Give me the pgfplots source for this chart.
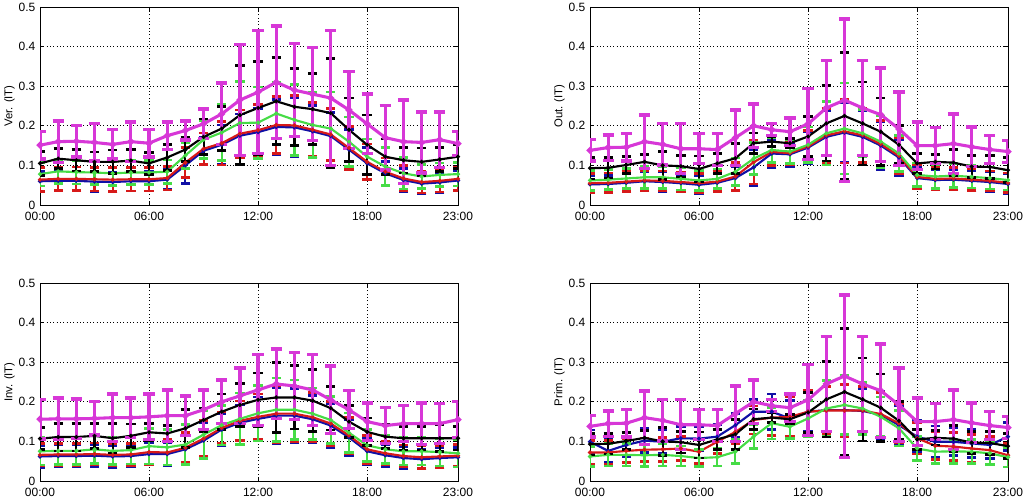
\documentclass[border=0pt]{standalone}
\usepackage{pgfplots}
\usepackage{pgfplotstable}
\pgfplotsset{compat=1.18}
\usepackage{fontspec}
\setmainfont{Liberation Sans}

\definecolor{cb}{RGB}{15,15,165}
\definecolor{cr}{RGB}{215,25,25}
\definecolor{cg}{RGB}{70,220,70}
\definecolor{cm}{RGB}{215,55,215}

\pgfplotstableread{
h b be r re g ge k ke m me
0 0.060 0.025 0.064 0.030 0.078 0.030 0.105 0.030 0.151 0.035
1 0.061 0.025 0.066 0.030 0.085 0.030 0.117 0.025 0.160 0.052
2 0.061 0.025 0.066 0.030 0.083 0.030 0.113 0.027 0.161 0.040
3 0.059 0.025 0.065 0.030 0.082 0.030 0.109 0.025 0.158 0.047
4 0.058 0.025 0.064 0.030 0.080 0.030 0.109 0.030 0.153 0.037
5 0.060 0.025 0.065 0.030 0.082 0.030 0.112 0.028 0.160 0.050
6 0.060 0.025 0.065 0.030 0.082 0.030 0.105 0.028 0.156 0.035
7 0.064 0.025 0.068 0.030 0.084 0.030 0.120 0.033 0.175 0.035
8 0.100 0.045 0.107 0.038 0.125 0.032 0.140 0.030 0.188 0.024
9 0.137 0.035 0.142 0.040 0.165 0.048 0.172 0.045 0.205 0.037
10 0.152 0.050 0.156 0.055 0.183 0.070 0.193 0.055 0.230 0.078
11 0.175 0.055 0.180 0.060 0.207 0.105 0.227 0.125 0.265 0.140
12 0.184 0.060 0.189 0.065 0.208 0.090 0.245 0.118 0.285 0.155
13 0.197 0.070 0.202 0.072 0.231 0.078 0.262 0.110 0.310 0.142
14 0.196 0.075 0.201 0.075 0.215 0.090 0.248 0.097 0.290 0.117
15 0.186 0.065 0.190 0.068 0.202 0.082 0.242 0.090 0.280 0.117
16 0.174 0.060 0.178 0.065 0.193 0.092 0.232 0.138 0.270 0.170
17 0.140 0.050 0.144 0.055 0.160 0.062 0.190 0.080 0.240 0.097
18 0.105 0.040 0.109 0.045 0.122 0.045 0.152 0.075 0.205 0.075
19 0.080 0.030 0.084 0.035 0.097 0.048 0.122 0.045 0.170 0.082
20 0.063 0.030 0.067 0.032 0.080 0.040 0.113 0.032 0.160 0.105
21 0.054 0.025 0.058 0.028 0.072 0.030 0.109 0.035 0.158 0.077
22 0.057 0.025 0.061 0.028 0.076 0.030 0.115 0.030 0.165 0.070
23 0.062 0.025 0.066 0.030 0.078 0.030 0.122 0.030 0.155 0.030
}\tabA

\pgfplotstableread{
h b be r re g ge k ke m me
0 0.052 0.022 0.055 0.025 0.062 0.025 0.093 0.027 0.138 0.027
1 0.053 0.022 0.056 0.025 0.064 0.025 0.094 0.026 0.145 0.032
2 0.056 0.022 0.059 0.025 0.067 0.025 0.101 0.022 0.146 0.035
3 0.060 0.025 0.062 0.025 0.070 0.028 0.109 0.018 0.160 0.067
4 0.058 0.025 0.061 0.025 0.070 0.028 0.100 0.035 0.153 0.052
5 0.055 0.022 0.058 0.025 0.066 0.028 0.098 0.027 0.142 0.063
6 0.051 0.022 0.055 0.025 0.062 0.025 0.091 0.033 0.142 0.038
7 0.056 0.022 0.059 0.025 0.066 0.025 0.105 0.025 0.140 0.040
8 0.068 0.030 0.072 0.035 0.084 0.035 0.118 0.038 0.170 0.070
9 0.095 0.045 0.108 0.055 0.117 0.040 0.156 0.026 0.200 0.055
10 0.130 0.035 0.134 0.035 0.139 0.032 0.160 0.012 0.190 0.015
11 0.128 0.030 0.131 0.030 0.135 0.030 0.156 0.012 0.185 0.035
12 0.145 0.040 0.148 0.040 0.152 0.045 0.173 0.050 0.205 0.090
13 0.172 0.065 0.176 0.068 0.181 0.080 0.206 0.095 0.245 0.120
14 0.183 0.075 0.186 0.080 0.193 0.115 0.225 0.160 0.265 0.205
15 0.172 0.065 0.176 0.068 0.181 0.060 0.206 0.105 0.245 0.120
16 0.150 0.060 0.154 0.060 0.160 0.065 0.185 0.085 0.228 0.118
17 0.120 0.045 0.124 0.045 0.130 0.045 0.152 0.048 0.192 0.093
18 0.068 0.028 0.071 0.030 0.076 0.030 0.105 0.025 0.150 0.060
19 0.063 0.025 0.066 0.028 0.072 0.030 0.109 0.018 0.150 0.045
20 0.064 0.025 0.067 0.028 0.074 0.030 0.107 0.033 0.155 0.075
21 0.061 0.025 0.064 0.028 0.071 0.028 0.097 0.028 0.147 0.050
22 0.058 0.025 0.061 0.025 0.068 0.028 0.096 0.029 0.140 0.035
23 0.053 0.025 0.056 0.025 0.063 0.025 0.088 0.032 0.135 0.028
}\tabB

\pgfplotstableread{
h b be r re g ge k ke m me
0 0.062 0.028 0.066 0.028 0.075 0.035 0.107 0.028 0.156 0.050
1 0.063 0.028 0.067 0.028 0.076 0.035 0.111 0.035 0.157 0.053
2 0.063 0.028 0.067 0.028 0.076 0.035 0.111 0.035 0.157 0.050
3 0.064 0.028 0.068 0.028 0.080 0.035 0.114 0.032 0.158 0.042
4 0.062 0.028 0.066 0.028 0.076 0.035 0.108 0.037 0.160 0.060
5 0.063 0.028 0.067 0.028 0.078 0.035 0.114 0.030 0.160 0.050
6 0.068 0.028 0.073 0.032 0.088 0.045 0.123 0.022 0.162 0.058
7 0.068 0.030 0.072 0.032 0.085 0.045 0.120 0.020 0.165 0.065
8 0.080 0.035 0.084 0.038 0.092 0.050 0.133 0.048 0.165 0.050
9 0.102 0.045 0.107 0.045 0.117 0.060 0.154 0.030 0.180 0.050
10 0.130 0.040 0.134 0.040 0.141 0.050 0.175 0.045 0.200 0.055
11 0.147 0.045 0.152 0.050 0.157 0.065 0.192 0.055 0.215 0.070
12 0.157 0.055 0.162 0.058 0.171 0.070 0.205 0.068 0.230 0.090
13 0.165 0.070 0.170 0.072 0.180 0.080 0.211 0.088 0.245 0.088
14 0.165 0.068 0.170 0.070 0.180 0.075 0.211 0.080 0.240 0.085
15 0.156 0.060 0.161 0.062 0.170 0.065 0.203 0.078 0.230 0.090
16 0.140 0.055 0.145 0.055 0.154 0.060 0.184 0.055 0.205 0.085
17 0.110 0.045 0.115 0.045 0.122 0.050 0.150 0.040 0.180 0.048
18 0.075 0.035 0.080 0.035 0.090 0.040 0.124 0.035 0.150 0.047
19 0.065 0.028 0.070 0.030 0.080 0.035 0.112 0.030 0.140 0.045
20 0.058 0.028 0.063 0.028 0.075 0.035 0.108 0.030 0.145 0.045
21 0.055 0.025 0.060 0.028 0.075 0.035 0.108 0.030 0.145 0.052
22 0.058 0.025 0.062 0.028 0.073 0.035 0.108 0.033 0.145 0.050
23 0.060 0.025 0.064 0.028 0.070 0.035 0.108 0.030 0.155 0.045
}\tabC

\pgfplotstableread{
h b be r re g ge k ke m me
0 0.099 0.030 0.072 0.030 0.062 0.025 0.093 0.027 0.138 0.027
1 0.076 0.030 0.072 0.030 0.066 0.028 0.094 0.026 0.145 0.032
2 0.091 0.030 0.076 0.030 0.066 0.028 0.101 0.022 0.146 0.035
3 0.102 0.030 0.079 0.030 0.065 0.028 0.109 0.018 0.160 0.067
4 0.099 0.030 0.080 0.030 0.066 0.028 0.100 0.035 0.153 0.052
5 0.108 0.030 0.082 0.030 0.063 0.025 0.098 0.027 0.142 0.063
6 0.107 0.030 0.074 0.030 0.058 0.022 0.091 0.033 0.142 0.038
7 0.112 0.030 0.099 0.030 0.060 0.022 0.105 0.025 0.140 0.040
8 0.141 0.030 0.124 0.030 0.074 0.030 0.118 0.038 0.170 0.070
9 0.175 0.030 0.154 0.035 0.112 0.030 0.156 0.026 0.200 0.055
10 0.175 0.045 0.160 0.045 0.146 0.040 0.160 0.012 0.190 0.015
11 0.158 0.045 0.162 0.050 0.137 0.030 0.156 0.012 0.185 0.035
12 0.175 0.050 0.175 0.055 0.158 0.045 0.173 0.050 0.205 0.090
13 0.179 0.060 0.178 0.060 0.183 0.070 0.206 0.095 0.245 0.120
14 0.179 0.065 0.178 0.065 0.192 0.075 0.225 0.160 0.265 0.205
15 0.177 0.055 0.178 0.060 0.183 0.065 0.206 0.105 0.245 0.120
16 0.167 0.060 0.169 0.055 0.162 0.050 0.185 0.085 0.228 0.118
17 0.141 0.050 0.146 0.050 0.133 0.045 0.152 0.048 0.192 0.093
18 0.112 0.040 0.108 0.040 0.082 0.030 0.105 0.025 0.150 0.060
19 0.099 0.040 0.089 0.035 0.074 0.030 0.109 0.018 0.150 0.045
20 0.099 0.035 0.087 0.035 0.075 0.030 0.107 0.033 0.155 0.075
21 0.095 0.035 0.082 0.035 0.074 0.030 0.097 0.028 0.147 0.050
22 0.091 0.035 0.078 0.035 0.070 0.028 0.096 0.029 0.140 0.035
23 0.112 0.035 0.065 0.030 0.060 0.025 0.088 0.032 0.135 0.028
}\tabD

\pgfplotsset{
  panel/.style={
    scale only axis, width=313.5pt, height=148.5pt,
    anchor=south west,
    xmin=0, xmax=23, ymin=0, ymax=0.5,
    xtick={0,6,12,18,23},
    xticklabels={00:00,06:00,12:00,18:00,23:00},
    ytick={0,0.1,0.2,0.3,0.4,0.5},
    yticklabels={0,0.1,0.2,0.3,0.4,0.5},
    grid=major,
    major grid style={line width=0.5pt, black, dotted},
    tick align=inside, major tick length=3pt,
    tick style={black, line width=0.5pt},
    axis line style={line width=0.7pt},
    tick label style={font=\fontsize{9}{10}\selectfont},
    xticklabel style={yshift=-1.5pt},
    label style={font=\fontsize{8.5}{10}\selectfont},
    ylabel style={yshift=-4pt},
  },
  ser/.style={
    color=#1, line width=1.6pt, mark=*, mark size=0.6pt,
    error bars/.cd, y dir=both, y explicit,
    error bar style={line width=1.6pt, color=#1, solid},
    error mark options={line width=2pt, mark size=3.5pt, color=#1, rotate=90},
  },
  serm/.style={
    color=cm, line width=2.3pt, mark=*, mark size=1.2pt,
    error bars/.cd, y dir=both, y explicit,
    error bar style={line width=2.4pt, color=cm, solid},
    error mark options={line width=2.5pt, mark size=4.2pt, color=cm, rotate=90},
  },
}

\newcommand\plotset[1]{%
  \addplot[ser=cb] table[x=h, y=b, y error=be] {#1};
  \addplot[ser=cr] table[x=h, y=r, y error=re] {#1};
  \addplot[ser=cg] table[x=h, y=g, y error=ge] {#1};
  \addplot[ser=black] table[x=h, y=k, y error=ke] {#1};
  \addplot[serm] table[x=h, y=m, y error=me] {#1};
}

\begin{document}
\begin{tikzpicture}
\useasboundingbox (0,0) rectangle (768pt,375pt);
\begin{axis}[panel, at={(30pt,221.25pt)}, ylabel={Ver. (IT)}]
\plotset{\tabA}
\end{axis}
\begin{axis}[panel, at={(442.5pt,221.25pt)}, ylabel={Out. (IT)}]
\plotset{\tabB}
\end{axis}
\begin{axis}[panel, at={(30pt,14.25pt)}, ylabel={Inv. (IT)}]
\plotset{\tabC}
\end{axis}
\begin{axis}[panel, at={(442.5pt,14.25pt)}, ylabel={Prim. (IT)}]
\plotset{\tabD}
\end{axis}
\end{tikzpicture}
\end{document}
